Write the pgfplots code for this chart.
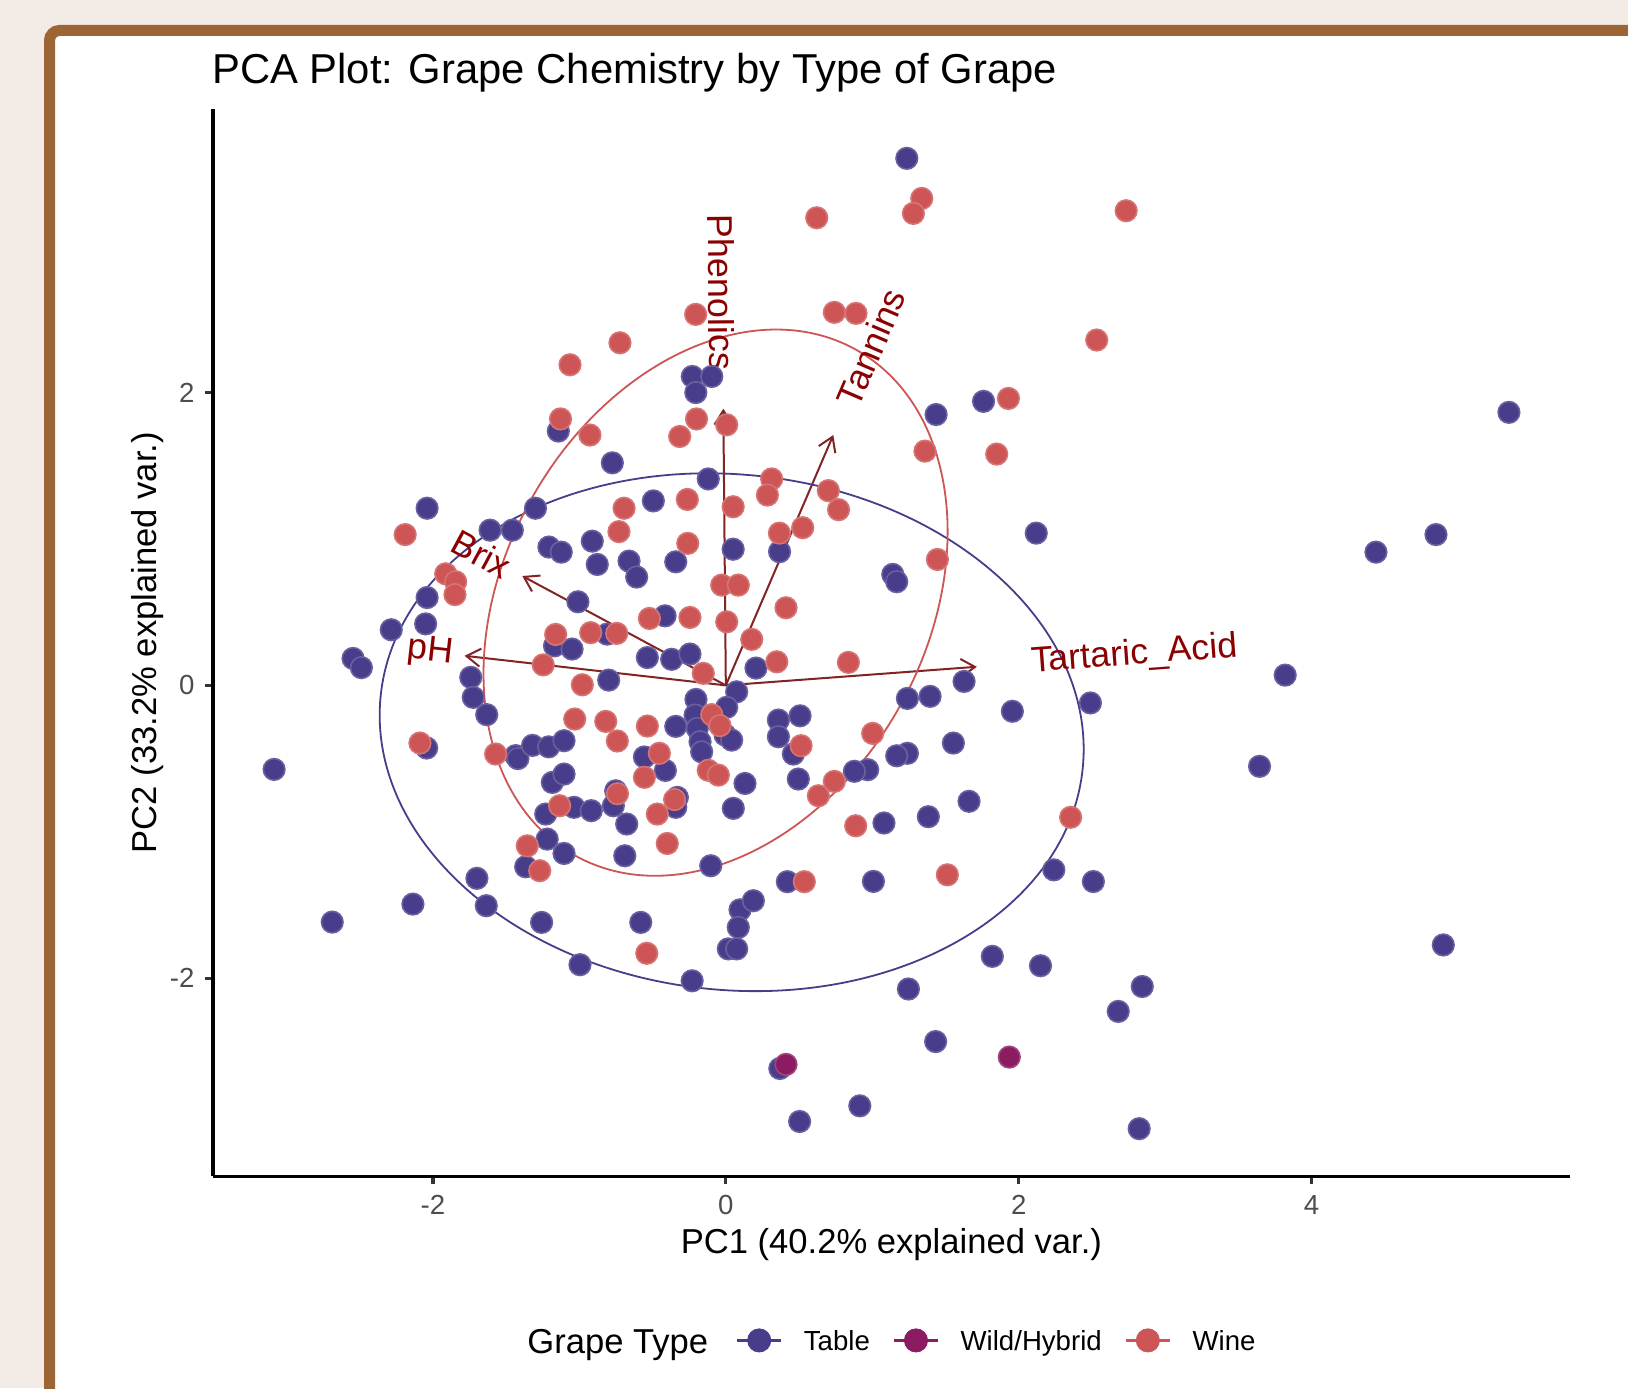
\documentclass[border=0pt]{standalone}
\usepackage{fontspec}
\setmainfont{Liberation Sans}
\usepackage{pgfplots}
\pgfplotsset{compat=1.18}
\usetikzlibrary{arrows.meta}
\definecolor{tablec}{HTML}{483D8B}
\definecolor{winec}{HTML}{CD5555}
\definecolor{wildc}{HTML}{8B1C62}
\definecolor{arrowc}{HTML}{832424}
\definecolor{labelc}{HTML}{8B0000}
\definecolor{bgc}{HTML}{F3ECE6}
\definecolor{framec}{HTML}{9C6634}
\definecolor{tickc}{HTML}{4D4D4D}
\definecolor{tickl}{HTML}{333333}
\begin{document}
\begin{tikzpicture}
\useasboundingbox (0pt,0pt) rectangle (814pt,694pt);
\clip (0pt,0pt) rectangle (814pt,694pt);
\fill[bgc] (0pt,0pt) rectangle (814pt,694pt);
\draw[framec, line width=5.5pt, fill=white, rounded corners=5pt] (24.75pt,-40pt) rectangle (860pt,678.75pt);
\node[anchor=base west, inner sep=0pt, font=\fontsize{20.9}{25}\selectfont] at (105.9pt,652.35pt) {PCA Plot: Grape Chemistry by Type of Grape};
\node[anchor=base, inner sep=0pt, font=\fontsize{17.3}{20}\selectfont] at (445.7pt,67.25pt) {PC1 (40.2\% explained var.)};
\node[anchor=base, rotate=90, inner sep=0pt, font=\fontsize{17.3}{20}\selectfont] at (78.35pt,372.65pt) {PC2 (33.2\% explained var.)};
\node[anchor=base west, inner sep=0pt, font=\fontsize{17.3}{20}\selectfont] at (263.5pt,17.5pt) {Grape Type};
\begin{axis}[
  at={(106.45pt,105.8pt)}, anchor=south west,
  scale only axis, width=678.6pt, height=533.7pt,
  xmin=-3.503, xmax=5.766, ymin=-3.354, ymax=3.937,
  axis lines=left, axis line style={-, line width=1.6pt, black},
  xtick={-2,0,2,4}, xticklabels={-2,0,2,4},
  ytick={-2,0,2}, yticklabels={-2,0,2},
  tick align=outside, major tick length=4pt,
  tick style={line width=1.6pt, color=tickl},
  xticklabel style={anchor=base, yshift=-14.8pt, inner sep=0pt, text=tickc, font=\fontsize{13.8}{16}\selectfont},
  yticklabel style={anchor=east, xshift=-5pt, inner sep=0pt, text=tickc, font=\fontsize{13.8}{16}\selectfont},
  clip=false,
  legend columns=-1, legend cell align=left,
  legend style={at={(0.3855,-0.15365)}, anchor=west, draw=none, fill=none, inner sep=0pt, outer sep=0pt,
    column sep=10.8pt, font=\fontsize{13.8}{16}\selectfont, nodes={inner sep=0pt, text depth=0pt},
    /tikz/every even column/.append style={column sep=11.5pt}},
  tpts/.style={only marks, mark=*, mark size=5.4pt, forget plot},
]
% loadings
\addplot[arrowc, line width=1pt, -{Straight Barb[length=7pt,width=9pt]}, forget plot] coordinates {(0,0) (1.714,0.127)};
\addplot[arrowc, line width=1pt, -{Straight Barb[length=7pt,width=9pt]}, forget plot] coordinates {(0,0) (-1.784,0.202)};
\addplot[arrowc, line width=1pt, -{Straight Barb[length=7pt,width=9pt]}, forget plot] coordinates {(0,0) (-1.39,0.747)};
\addplot[arrowc, line width=1pt, -{Straight Barb[length=7pt,width=9pt]}, forget plot] coordinates {(0,0) (0.734,1.71)};
\addplot[arrowc, line width=1pt, -{Straight Barb[length=7pt,width=9pt]}, forget plot] coordinates {(0,0) (-0.017,1.89)};
% Table
\addplot[tpts, color=tablec, mark options={solid, fill=tablec, draw=tablec!82!white, line width=0.8pt}] coordinates {
(1.236,3.60) (5.348,1.865) (1.76,1.94) (1.436,1.85) (2.12,1.04) (4.44,0.91) (4.85,1.03) (3.82,0.07) (3.645,-0.553) (4.90,-1.773)
(2.49,-0.12) (1.957,-0.177) (1.627,0.027) (1.395,-0.075) (1.24,-0.089) (1.554,-0.394) (1.661,-0.792) (1.383,-0.897) (1.08,-0.94) (1.24,-0.464)
(1.167,-0.481) (0.969,-0.576) (0.878,-0.587) (1.008,-1.339) (2.24,-1.26) (2.51,-1.34) (1.82,-1.851) (2.149,-1.915) (2.844,-2.057) (2.68,-2.227)
(1.247,-2.074) (1.433,-2.433) (0.915,-2.872) (0.504,-2.979) (0.369,-2.617) (2.823,-3.028) (0.42,-1.341) (-3.085,-0.574) (-2.688,-1.617) (-2.546,0.184)
(-2.489,0.121) (-0.23,-2.018) (-0.103,-1.232) (0.097,-1.533) (0.085,-1.653) (0.017,-1.80) (0.074,-1.80) (0.188,-1.471) (-0.229,2.11) (-0.205,2.0)
(-0.096,2.11) (-1.144,1.737) (-0.775,1.52) (-2.04,1.21) (-1.30,1.21) (-1.61,1.06) (-1.458,1.06) (-0.495,1.26) (-1.208,0.945) (-1.124,0.91)
(-0.912,0.985) (-0.878,0.826) (-0.661,0.849) (-0.609,0.74) (-0.342,0.844) (-2.04,0.60) (-2.05,0.42) (-2.285,0.38) (-1.01,0.571) (-0.415,0.475)
(-0.81,0.35) (-0.12,1.41) (0.367,0.913) (0.05,0.93) (1.14,0.758) (1.167,0.708) (-1.17,0.27) (-1.05,0.248) (-0.536,0.19) (-0.37,0.178)
(-0.245,0.214) (-1.742,0.055) (-0.80,0.036) (-1.725,-0.082) (-1.633,-0.20) (-0.342,-0.28) (-2.043,-0.428) (-1.435,-0.48) (-1.42,-0.50) (-1.32,-0.41)
(-1.21,-0.42) (-1.105,-0.378) (-0.556,-0.489) (-0.413,-0.581) (-1.185,-0.663) (-1.105,-0.606) (-0.752,-0.72) (-0.331,-0.765) (-0.342,-0.833) (-1.23,-0.879)
(-1.037,-0.833) (-0.919,-0.856) (-0.768,-0.822) (-0.677,-0.947) (-1.22,-1.05) (-1.105,-1.148) (-1.367,-1.239) (-0.69,-1.164) (-1.70,-1.318) (-2.137,-1.494)
(-1.636,-1.505) (-1.258,-1.619) (-0.581,-1.619) (-0.996,-1.908) (0.206,0.118) (0.074,-0.044) (-0.204,-0.096) (0.006,-0.15) (-0.21,-0.203) (-0.195,-0.294)
(-0.005,-0.339) (0.04,-0.374) (-0.176,-0.385) (-0.165,-0.454) (0.359,-0.237) (0.507,-0.208) (0.359,-0.351) (0.461,-0.469) (0.495,-0.64) (0.131,-0.67)
(0.051,-0.84)
};
% Wine
\addplot[tpts, color=winec, mark options={solid, fill=winec, draw=winec!82!white, line width=0.8pt}] coordinates {
(1.338,3.326) (1.281,3.224) (0.621,3.194) (2.734,3.242) (2.533,2.359) (0.741,2.548) (0.889,2.541) (-0.206,2.534) (-0.723,2.34) (-1.064,2.19)
(-0.2,1.82) (-0.315,1.70) (-1.129,1.82) (-0.928,1.71) (0.006,1.78) (1.93,1.96) (1.36,1.60) (1.85,1.58) (-2.19,1.03) (-0.695,1.21)
(-0.263,1.27) (-0.73,1.05) (-0.26,0.97) (0.313,1.41) (0.284,1.30) (0.70,1.33) (0.77,1.20) (0.05,1.22) (0.525,1.077) (0.366,1.04)
(1.445,0.86) (-0.028,0.685) (0.085,0.685) (0.411,0.53) (-1.913,0.762) (-1.845,0.708) (-1.85,0.62) (-0.522,0.457) (-0.245,0.464) (0.006,0.434)
(-1.162,0.348) (-0.923,0.36) (-0.745,0.355) (0.177,0.314) (0.348,0.161) (0.837,0.157) (-1.247,0.14) (-0.154,0.082) (-0.98,0.004) (-1.032,-0.23)
(-0.82,-0.246) (-0.741,-0.38) (-0.536,-0.278) (-2.089,-0.394) (-1.572,-0.469) (-0.454,-0.464) (-0.556,-0.628) (-0.74,-0.74) (-0.35,-0.78) (-0.468,-0.879)
(-1.135,-0.822) (-0.40,-1.08) (-1.356,-1.096) (-1.271,-1.266) (-0.54,-1.83) (-0.096,-0.2) (-0.04,-0.275) (-0.12,-0.58) (-0.051,-0.613) (0.514,-0.412)
(1.003,-0.328) (0.741,-0.656) (0.632,-0.754) (0.887,-0.959) (0.536,-1.341) (1.513,-1.294) (2.355,-0.901)
};
% Wild/Hybrid
\addplot[tpts, color=wildc, mark options={solid, fill=wildc, draw=wildc!82!white, line width=0.8pt}] coordinates {
(0.411,-2.589) (1.936,-2.539)
};
% ellipses
\draw[tablec, line width=0.9pt, rotate around={-6:(axis cs:0.04,-0.32)}] (axis cs:0.04,-0.32) ellipse [x radius=2.41, y radius=1.76];
\draw[winec, line width=0.9pt, rotate around={61.04:(axis cs:-0.07,0.565)}] (axis cs:-0.07,0.565) ellipse [x radius=1.976, y radius=1.444];
% variable labels
\node[labelc, rotate=4.24, inner sep=0pt, font=\fontsize{17.9}{21}\selectfont] at (axis cs:2.791,0.207) {Tartaric\_Acid};
\node[labelc, rotate=-6.46, inner sep=0pt, font=\fontsize{17.9}{21}\selectfont] at (axis cs:-2.017,0.228) {pH};
\node[labelc, rotate=-28.25, inner sep=0pt, font=\fontsize{17.9}{21}\selectfont] at (axis cs:-1.668,0.897) {Brix};
\node[labelc, rotate=66.77, inner sep=0pt, font=\fontsize{17.9}{21}\selectfont] at (axis cs:0.991,2.309) {Tannins};
\node[labelc, rotate=-89.48, inner sep=0pt, font=\fontsize{17.9}{21}\selectfont] at (axis cs:-0.03,2.685) {Phenolics};
% legend
\addlegendimage{legend image code/.code={\draw[tablec, line width=1.1pt] (0pt,0pt) -- (22pt,0pt); \fill[tablec] (11pt,0pt) circle[radius=5.8pt];}}
\addlegendentry{Table}
\addlegendimage{legend image code/.code={\draw[wildc, line width=1.1pt] (0pt,0pt) -- (22pt,0pt); \fill[wildc] (11pt,0pt) circle[radius=5.8pt];}}
\addlegendentry{Wild/Hybrid}
\addlegendimage{legend image code/.code={\draw[winec, line width=1.1pt] (0pt,0pt) -- (22pt,0pt); \fill[winec] (11pt,0pt) circle[radius=5.8pt];}}
\addlegendentry{Wine}
\end{axis}
\end{tikzpicture}
\end{document}
